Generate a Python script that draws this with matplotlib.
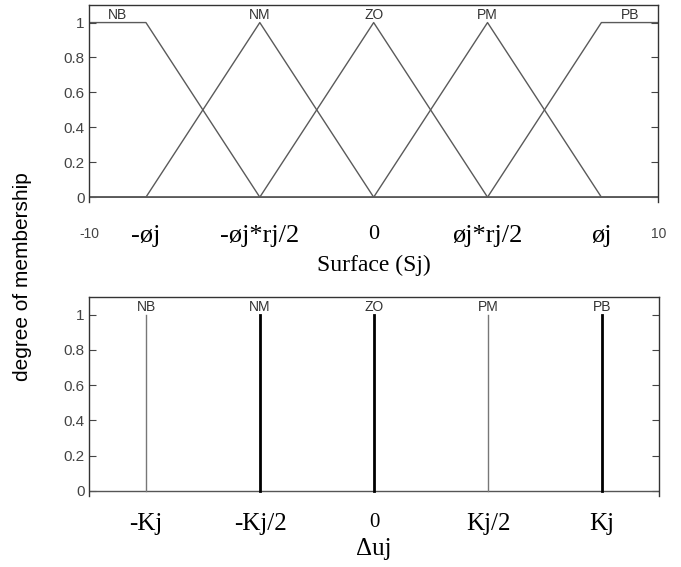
import numpy as np
import matplotlib
matplotlib.use('Agg')
import matplotlib.pyplot as plt
from matplotlib.transforms import offset_copy

plt.rcParams['font.family'] = ['Liberation Sans', 'DejaVu Sans']

# Membership functions on the surface S_j (range -10..10)
X_RANGE = (-10, 10)
NB_PARAMS = (-10, -10, -8, -4)   # trapezoid
NM_PARAMS = (-8, -4, 0)          # triangle
ZO_PARAMS = (-4, 0, 4)
PM_PARAMS = (0, 4, 8)
PB_PARAMS = (4, 8, 10, 10)       # trapezoid

mf_names = ['NB', 'NM', 'ZO', 'PM', 'PB']
top_label_x = [-9, -4, 0, 4, 9]

top_ticks = [-10, -8, -4, 0, 4, 8, 10]
top_ticklabels = ['-10', '-øj', '-øj*rj/2', '0', 'øj*rj/2', 'øj', '10']

# Singletons on the output Delta u_j
du_pos = [-8, -4, 0, 4, 8]
du_height = [1, 1, 1, 1, 1]
bottom_ticklabels = ['-Kj', '-Kj/2', '0', 'Kj/2', 'Kj']

yticks = [0, 0.2, 0.4, 0.6, 0.8, 1]
yticklabels = ['0', '0.2', '0.4', '0.6', '0.8', '1']


def trapmf(x, a, b, c, d):
    y = np.zeros_like(x)
    y = np.where((x >= b) & (x <= c), 1.0, y)
    if b > a:
        m = (x > a) & (x < b)
        y = np.where(m, (x - a) / (b - a), y)
    if d > c:
        m = (x > c) & (x < d)
        y = np.where(m, (d - x) / (d - c), y)
    return y


def trimf(x, a, b, c):
    return trapmf(x, a, b, b, c)


xs = np.linspace(X_RANGE[0], X_RANGE[1], 2001)
mfs = [trapmf(xs, *NB_PARAMS), trimf(xs, *NM_PARAMS), trimf(xs, *ZO_PARAMS),
       trimf(xs, *PM_PARAMS), trapmf(xs, *PB_PARAMS)]

fig = plt.figure(figsize=(6.81, 5.67), dpi=100)
ax1 = fig.add_axes([0.1307, 0.643, 0.836, 0.348])
ax2 = fig.add_axes([0.1307, 0.125, 0.837, 0.351])

serif = ['Liberation Serif', 'DejaVu Serif']
sans = ['Liberation Sans', 'DejaVu Sans']

def style_axes(ax, xpad):
    ax.set_xlim(*X_RANGE)
    ax.set_ylim(-0.03, 1.1)
    ax.spines['bottom'].set_visible(False)
    for s in ['left', 'right', 'top']:
        ax.spines[s].set_color('#333333')
        ax.spines[s].set_linewidth(1.0)
    ax.set_yticks(yticks)
    ax.set_yticklabels(yticklabels)
    ax.tick_params(axis='y', direction='in', length=5, width=0.8,
                   right=True, labelsize=11, colors='#444444', pad=3)
    ax.tick_params(axis='x', length=0, pad=xpad)

# top: surface membership functions
style_axes(ax1, 16)
for y in mfs:
    ax1.plot(xs, y, color='#5a5a5a', lw=1.0)
for name, lx in zip(mf_names, top_label_x):
    ax1.text(lx, 1.005, name, ha='center', va='bottom', fontsize=10, color='#333333')
ax1.set_xticks(top_ticks)
ax1.set_xticklabels(top_ticklabels, fontsize=19, family=serif)
labels = ax1.get_xticklabels()
for t in (labels[0], labels[-1]):
    t.set_fontfamily(sans)
    t.set_fontsize(10)
    t.set_color('#444444')
    t.set_transform(offset_copy(t.get_transform(), fig=fig, y=-1.5, units='points'))
labels[3].set_fontsize(16)
ax1.set_xlabel('Surface (Sj)', fontsize=17, family=serif, labelpad=6)

# bottom: singleton outputs
style_axes(ax2, 12)
ax2.axhline(0, color='#555555', lw=1.0)
du_colors = ['#777777', 'black', 'black', '#777777', 'black']
du_widths = [1.0, 2.0, 2.0, 1.0, 2.0]
for p, h, c, w in zip(du_pos, du_height, du_colors, du_widths):
    ax2.plot([p, p], [0, h], color=c, lw=w)
for name, p in zip(mf_names, du_pos):
    ax2.text(p, 1.005, name, ha='center', va='bottom', fontsize=10, color='#333333')
ax2.set_xticks(du_pos)
ax2.set_xticklabels(bottom_ticklabels, fontsize=18, family=serif)
ax2.get_xticklabels()[2].set_fontsize(15)
ax2.set_xlabel('Δuj', fontsize=18, family=serif, labelpad=2)

fig.text(0.033, 0.512, 'degree of membership', rotation=90, ha='center',
         va='center', fontsize=15)

fig.savefig('out.png', dpi=100)
